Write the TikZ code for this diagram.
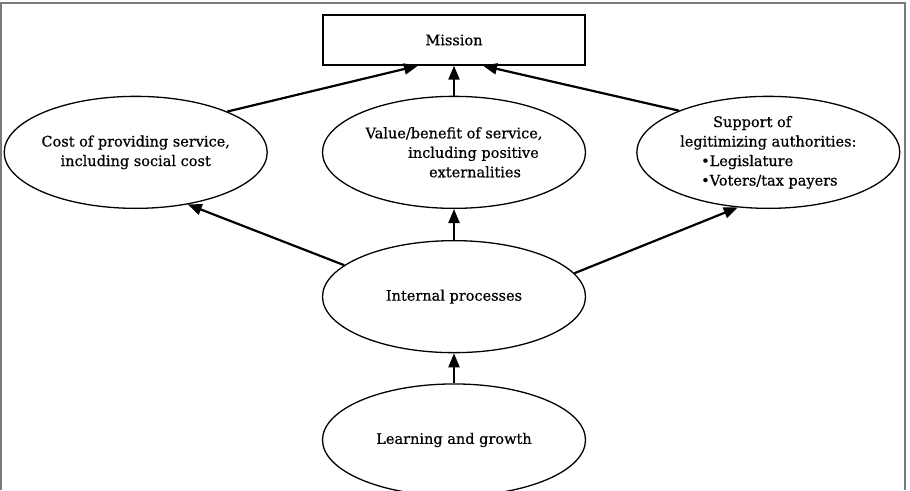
\documentclass[tikz,border=0pt]{standalone}
\usepackage{fontspec}
\setmainfont{DejaVu Serif}[FakeBold=0.6]
\usepackage{xcolor}
\usepackage{tikz}
\usetikzlibrary{arrows.meta,positioning,shapes.geometric}
\definecolor{frameGrey}{HTML}{7A7A7A}

\begin{document}
\begin{tikzpicture}[
  x=1pt,y=-1pt,
  node distance=30pt and 52pt,
  goal/.style={rectangle,draw,line width=1.4pt,minimum width=262pt,minimum height=50pt,font=\fontsize{14.5}{19.5}\selectfont},
  perspective/.style={ellipse,draw,line width=1.3pt,minimum width=263pt,minimum height=112pt,inner sep=-6pt,align=center,font=\fontsize{14.5}{19.5}\selectfont},
  arrow/.style={-{Triangle[length=14pt,width=11pt]},line width=2.2pt}
]
\useasboundingbox (0,0) rectangle (910,490);
\draw[frameGrey,line width=2pt] (1,490) -- (1,3) -- (905,3) -- (905,490);
\node[goal] (mission) at (454,40) {Mission};
\node[perspective,below=of mission] (value) {Value/benefit of service,\\ \hspace*{39pt}including positive\\ \hspace*{42pt}externalities};
\node[perspective,left=54pt of value] (cost) {Cost of providing service,\\ including social cost};
\node[perspective,right=50pt of value,align=left] (support) {\hspace*{33pt}Support of\\ legitimizing authorities:\\ \hspace*{21pt}•Legislature\\ \hspace*{21pt}•Voters/tax payers};
\node[perspective,below=31pt of value] (internal) {Internal processes};
\node[perspective,below=of internal] (learning) {Learning and growth};
\draw[arrow] (cost.24) -- ([xshift=-36pt]mission.south);
\draw[arrow] (value.north) -- (mission.south);
\draw[arrow] (support.155) -- ([xshift=29pt]mission.south);
\draw[arrow] (internal.164) -- (cost.-45);
\draw[arrow] (internal.north) -- (value.south);
\draw[arrow] (internal.11) -- (support.241);
\draw[arrow] (learning.north) -- (internal.south);
\end{tikzpicture}
\end{document}
